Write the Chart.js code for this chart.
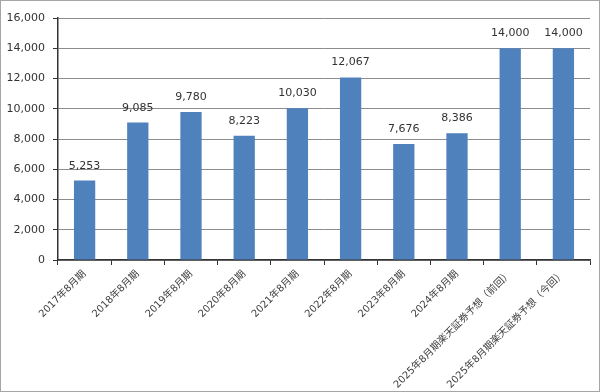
<!DOCTYPE html>
<html>
<head>
<meta charset="utf-8">
<script src="https://cdn.jsdelivr.net/npm/chart.js@4"></script>
<style>
  html, body { margin: 0; padding: 0; background: #fff; }
  #wrap { position: relative; width: 600px; height: 392px; }
  #wrap::after {
    content: ""; position: absolute; inset: 0;
    border: 1px solid #a6a6a6; pointer-events: none;
  }
</style>
</head>
<body>
<div id="wrap"><canvas id="profit" width="600" height="392"></canvas></div>
<script>
const categories = [
  "2017年8月期", "2018年8月期", "2019年8月期", "2020年8月期", "2021年8月期",
  "2022年8月期", "2023年8月期", "2024年8月期",
  "2025年8月期楽天証券予想（前回）", "2025年8月期楽天証券予想（今回）"
];
const profits = [5253, 9085, 9780, 8223, 10030, 12067, 7676, 8386, 14000, 14000];
const yTicks = [0, 2000, 4000, 6000, 8000, 10000, 12000, 14000, 16000];

// value labels above each bar
const barLabels = {
  id: "barLabels",
  afterDatasetsDraw(chart) {
    const ctx = chart.ctx;
    const meta = chart.getDatasetMeta(0);
    ctx.save();
    ctx.font = "11px 'DejaVu Sans', sans-serif";
    ctx.fillStyle = "#333";
    ctx.textAlign = "center";
    ctx.textBaseline = "alphabetic";
    meta.data.forEach((bar, i) => {
      ctx.fillText(profits[i].toLocaleString("en-US"), bar.x, bar.y - 12);
    });
    ctx.restore();
  }
};

new Chart(document.getElementById("profit"), {
  type: "bar",
  data: {
    labels: categories,
    datasets: [{
      data: profits,
      backgroundColor: "#4f81bd",
      barPercentage: 0.4,
      categoryPercentage: 1
    }]
  },
  options: {
    responsive: false,
    animation: false,
    layout: { padding: { top: 18, right: 10, bottom: 4, left: 0 } },
    plugins: {
      legend: { display: false },
      tooltip: { enabled: false }
    },
    scales: {
      y: {
        min: 0,
        max: 16000,
        afterBuildTicks(scale) { scale.ticks = yTicks.map(v => ({ value: v })); },
        afterFit(scale) { scale.width = 58; },
        border: { color: "#333", width: 1.5 },
        grid: { color: "#8c8c8c", tickColor: "#333", tickLength: 5 },
        ticks: {
          color: "#333",
          padding: 8,
          font: { family: "'DejaVu Sans', sans-serif", size: 11 },
          callback: v => v.toLocaleString("en-US")
        }
      },
      x: {
        border: { color: "#333", width: 1.5 },
        grid: { drawOnChartArea: false, tickColor: "#333", tickLength: 5 },
        afterFit(scale) { scale.height = 128; },
        ticks: {
          color: "#404040",
          autoSkip: false,
          minRotation: 45,
          maxRotation: 45,
          padding: 3,
          font: { family: "'DejaVu Sans', 'Noto Sans CJK JP', sans-serif", size: 10 }
        }
      }
    }
  },
  plugins: [barLabels]
});
</script>
</body>
</html>
